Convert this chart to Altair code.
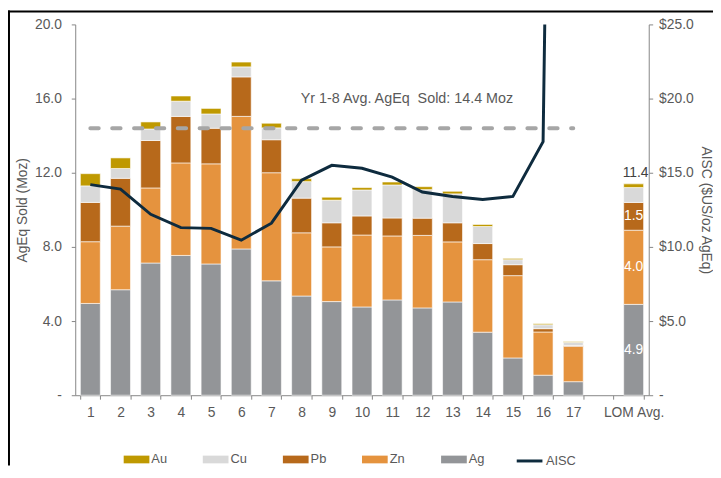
import altair as alt
import pandas as pd

# ---- data ----
categories = [str(i) for i in range(1, 18)] + [" ", "LOM Avg."]
bar_cats = [str(i) for i in range(1, 18)] + ["LOM Avg."]
metals = ["Au", "Cu", "Pb", "Zn", "Ag"]
metal_colors = ["#BF9900", "#D9D9D9", "#B7691B", "#E5933E", "#939598"]

ag = [4.95, 5.69, 7.13, 7.54, 7.08, 7.89, 6.17, 5.35, 5.05, 4.76, 5.14, 4.71, 5.03, 3.40, 2.01, 1.08, 0.73, 4.9]
zn = [3.33, 3.43, 4.05, 4.99, 5.40, 7.15, 5.83, 3.41, 2.95, 3.88, 3.45, 3.91, 3.24, 3.91, 4.44, 2.33, 1.90, 4.0]
pb = [2.12, 2.58, 2.56, 2.51, 1.92, 2.13, 1.78, 1.87, 1.30, 1.03, 0.97, 0.93, 1.03, 0.87, 0.59, 0.18, 0.05, 1.5]
cu = [0.89, 0.53, 0.62, 0.82, 0.77, 0.54, 0.64, 0.89, 1.22, 1.40, 1.78, 1.54, 1.56, 0.92, 0.27, 0.21, 0.18, 0.8]
au = [0.66, 0.57, 0.38, 0.28, 0.30, 0.26, 0.25, 0.16, 0.16, 0.13, 0.16, 0.16, 0.14, 0.11, 0.07, 0.06, 0.04, 0.2]

aisc_cats = [str(i) for i in range(1, 18)]
aisc = [14.2, 13.9, 12.2, 11.3, 11.25, 10.45, 11.6, 14.5, 15.5, 15.3, 14.7, 13.7, 13.4, 13.2, 13.4, 17.1, 160.0]

avg_text = "Yr 1-8 Avg. AgEq\u00a0 Sold: 14.4 Moz"
avg_value = 14.4
avg_span = ["1", "17"]
avg_text_pos = ["11", 16.0]
lom_cat = "LOM Avg."
lom_labelled = ["Ag", "Zn", "Pb"]

# ---- tables ----
stack_order = {"Ag": 0, "Zn": 1, "Pb": 2, "Cu": 3, "Au": 4}
series = {"Ag": ag, "Zn": zn, "Pb": pb, "Cu": cu, "Au": au}
rows = []
for m, vals in series.items():
    for c, v in zip(bar_cats, vals):
        rows.append({"cat": c, "metal": m, "value": v, "ord": stack_order[m]})
df = pd.DataFrame(rows)
aisc_df = pd.DataFrame({"cat": aisc_cats, "aisc": aisc, "series": "AISC"})
avg_df = pd.DataFrame({"cat": avg_span, "y": [avg_value, avg_value]})
txt_df = pd.DataFrame({"cat": [avg_text_pos[0]], "y": [avg_text_pos[1]], "t": [avg_text]})
frame_df = pd.DataFrame({"a": [0]})

GREY_TXT = "#595959"
AX = "#868686"
FONT = "Liberation Sans"

xscale = alt.Scale(domain=categories, paddingInner=0.34, paddingOuter=0.17)
xaxis = alt.Axis(title=None, labelAngle=0, tickBand="extent", tickSize=4, labelPadding=7,
                 labelFontSize=14, labelColor=GREY_TXT, domainColor=AX, tickColor=AX)
yscale = alt.Scale(domain=[0, 20], nice=False)
yaxis = alt.Axis(title="AgEq Sold (Moz)", values=[0, 4, 8, 12, 16, 20], grid=False,
                 labelExpr="datum.value === 0 ? '-' : format(datum.value, '.1f')",
                 tickSize=4, labelPadding=10, labelFontSize=14, labelColor=GREY_TXT,
                 domainColor=AX, tickColor=AX, titleFontSize=14, titleFontWeight="normal",
                 titleColor=GREY_TXT, titlePadding=5, orient="left")

bars = alt.Chart(df).mark_bar(stroke="white", strokeWidth=0.6).encode(
    x=alt.X("cat:N", scale=xscale, axis=xaxis),
    y=alt.Y("value:Q", stack="zero", scale=yscale, axis=yaxis),
    color=alt.Color("metal:N", scale=alt.Scale(domain=metals, range=metal_colors),
                    legend=alt.Legend(orient="none", legendX=49, legendY=427, direction="horizontal",
                                      columns=5, columnPadding=36, title=None,
                                      symbolType="M-1,-0.3H1V0.3H-1Z", symbolSize=676,
                                      symbolStrokeWidth=0, labelFontSize=13, labelColor=GREY_TXT,
                                      labelOffset=2)),
    order=alt.Order("ord:Q", sort="ascending"),
)

avg_line = alt.Chart(avg_df).mark_line(color="#A6A6A6", strokeWidth=4, strokeDash=[8.5, 13.6],
                                       strokeCap="round").encode(
    x=alt.X("cat:N", scale=xscale, axis=xaxis, bandPosition=0.5),
    y=alt.Y("y:Q", scale=yscale, axis=yaxis),
)

avg_txt = alt.Chart(txt_df).mark_text(fontSize=14.5, color=GREY_TXT, dx=15, align="center",
                                      baseline="middle", font=FONT).encode(
    x=alt.X("cat:N", scale=xscale, axis=xaxis),
    y=alt.Y("y:Q", scale=yscale, axis=yaxis),
    text="t:N",
)

seg_labels = alt.Chart(df).transform_filter(
    alt.datum.cat == lom_cat
).transform_stack(
    stack="value", groupby=["cat"], as_=["v0", "v1"], sort=[alt.SortField("ord", order="ascending")]
).transform_calculate(
    mid="(datum.v0 + datum.v1) / 2"
).transform_filter(
    alt.FieldOneOfPredicate(field="metal", oneOf=lom_labelled)
).mark_text(fontSize=14, color="white", baseline="middle", font=FONT).encode(
    x=alt.X("cat:N", scale=xscale, axis=xaxis),
    y=alt.Y("mid:Q", scale=yscale, axis=yaxis),
    text=alt.Text("value:Q", format=".1f"),
)

total_label = alt.Chart(df).transform_filter(
    alt.datum.cat == lom_cat
).transform_aggregate(
    total="sum(value)", groupby=["cat"]
).mark_text(fontSize=14, color="#404040", baseline="middle", dy=-11, dx=2, font=FONT).encode(
    x=alt.X("cat:N", scale=xscale, axis=xaxis),
    y=alt.Y("total:Q", scale=yscale, axis=yaxis),
    text=alt.Text("total:Q", format=".1f"),
)

frame_top = alt.Chart(frame_df).mark_rule(color="black", strokeWidth=2).encode(
    x=alt.value(-68), x2=alt.value(645), y=alt.value(-13))
frame_left = alt.Chart(frame_df).mark_rule(color="black", strokeWidth=2).encode(
    x=alt.value(-67), y=alt.value(-14), y2=alt.value(446))

left = alt.layer(frame_top, frame_left, bars, avg_line, avg_txt, seg_labels, total_label)

line = alt.Chart(aisc_df).mark_line(strokeWidth=3, clip=True).encode(
    x=alt.X("cat:N", scale=xscale, axis=xaxis),
    y=alt.Y("aisc:Q", scale=alt.Scale(domain=[0, 25], nice=False),
            axis=alt.Axis(title="AISC ($US/oz AgEq)", orient="right", values=[0, 5, 10, 15, 20, 25],
                          grid=False,
                          labelExpr="datum.value === 0 ? '-' : '$' + format(datum.value, '.1f')",
                          tickSize=4, labelPadding=6, labelFontSize=14, labelColor=GREY_TXT,
                          domainColor=AX, tickColor=AX, titleFontSize=14, titleFontWeight="normal",
                          titleColor=GREY_TXT, titlePadding=5)),
    stroke=alt.Stroke("series:N", scale=alt.Scale(domain=["AISC"], range=["#0E2B3E"]),
                      legend=alt.Legend(orient="none", legendX=445, legendY=427, title=None,
                                        symbolType="stroke", symbolSize=676, symbolStrokeWidth=3,
                                        labelFontSize=13, labelColor=GREY_TXT, labelOffset=2)),
)

chart = alt.layer(left, line).resolve_scale(y="independent").properties(
    width=580, height=375,
    autosize=alt.AutoSizeParams(type="none"),
    padding={"left": 68, "top": 14, "right": 65, "bottom": 71},
).configure(font=FONT).configure_view(stroke=None)

chart.save("out.html", embed_options={"renderer": "svg", "actions": False})
